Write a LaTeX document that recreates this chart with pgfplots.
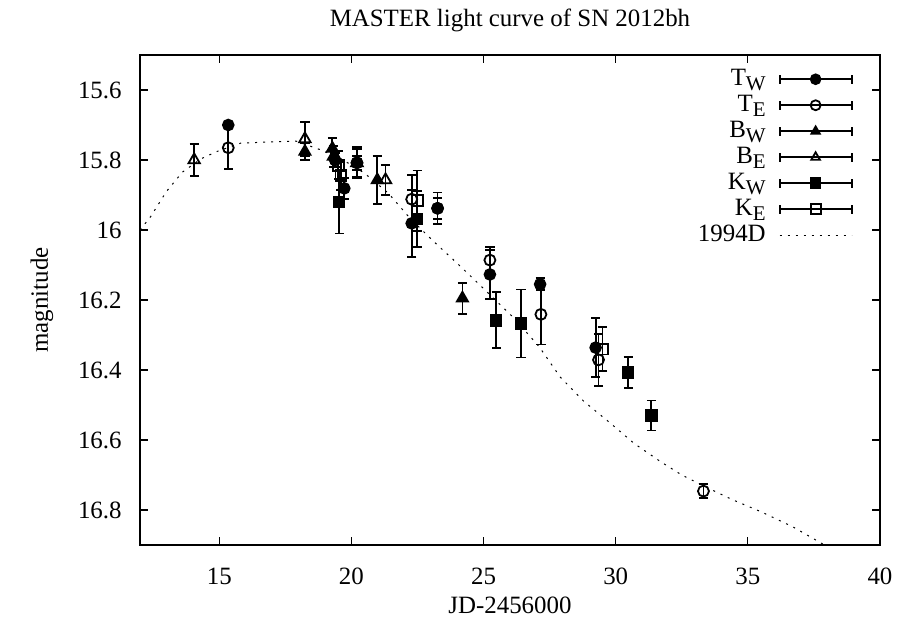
\documentclass[border=0pt]{standalone}
\usepackage{fontspec}
\setmainfont{Liberation Serif}
\usepackage{pgfplots}
\pgfplotsset{compat=1.18}
\newcommand\sub[1]{\raisebox{-0.5ex}{\fontsize{10.5}{10.5}\selectfont #1}}
\pgfplotsset{
  errleg/.style={legend image code/.code={
    \draw[mark=none,solid,line width=0.9bp] (0bp,0bp) -- (36bp,0bp);
    \draw[mark=none,solid,line width=0.9bp] (0bp,-2.3bp) -- (0bp,2.3bp) (36bp,-2.3bp) -- (36bp,2.3bp);
    \draw[##1, mark size=2.5bp] plot coordinates {(18bp,0bp)};
  }},
  dotleg/.style={legend image code/.code={
    \draw[##1] (0bp,0bp) -- (36bp,0bp);
  }},
  ebar/.style={error bars/y dir=both, error bars/y explicit,
    error bars/error mark options={rotate=90, mark size=2.3bp, line width=0.9bp, black},
    error bars/error bar style={line width=0.9bp, black}},
}
\begin{document}
\fontsize{12.5}{15}\selectfont
\begin{tikzpicture}
\useasboundingbox (-70bp,-39bp) rectangle (381bp,272.5bp);
\begin{axis}[
  scale only axis, width=370bp, height=245bp,
  at={(0,0)}, anchor=south west,
  xmin=12, xmax=40, ymin=15.5, ymax=16.9,
  y dir=reverse,
  xtick={15,20,25,30,35,40},
  ytick={15.6,15.8,16,16.2,16.4,16.6,16.8},
  /pgf/number format/assume math mode=true,
  major tick length=4bp,
  tick style={line width=0.6bp, black},
  axis line style={line width=0.7bp, black},
  xticklabel style={anchor=base, yshift=-19.5bp, inner sep=0pt},
  yticklabel style={anchor=east, xshift=-9bp, inner sep=0pt},
  every axis title shift=0pt,
  title={MASTER light curve of SN 2012bh},
  title style={at={(axis description cs:0.5,1)}, anchor=base, yshift=14.5bp, inner sep=0pt},
  xlabel={JD-2456000},
  xlabel style={at={(axis description cs:0.5,0)}, anchor=base, yshift=-34bp, inner sep=0pt},
  ylabel={magnitude},
  ylabel style={at={(axis description cs:-0.1324,0.5)}, anchor=center, inner sep=0pt},
  legend cell align=right,
  legend plot pos=right,
  legend style={draw=none, fill=none, at={(axis description cs:0.9715,0.986)}, anchor=north east,
    column sep=6.5bp, row sep=0pt,
    nodes={inner sep=0pt, text height=9.5bp, text depth=3.5bp}},
]
% T_W
\addplot[black, only marks, mark=*, mark size=2.75bp, mark options={solid, fill=black, line width=0.8bp}, ebar, errleg]
  table[x=x, y=y, y error=e] {
x y e
15.34 15.700 0.010
19.38 15.800 0.020
19.73 15.881 0.030
20.21 15.808 0.020
22.28 15.981 0.095
23.26 15.938 0.030
25.24 16.127 0.070
27.14 16.155 0.017
29.24 16.336 0.085
};
\addlegendentry{T\sub{W}}
% T_E
\addplot[black, only marks, mark=o, mark size=2.75bp, mark options={solid, line width=0.9bp}, ebar, errleg]
  table[x=x, y=y, y error=e] {
x y e
15.34 15.765 0.060
20.21 15.808 0.045
22.28 15.912 0.070
23.26 15.938 0.045
25.24 16.086 0.038
27.17 16.241 0.086
29.35 16.371 0.075
33.32 16.746 0.020
};
\addlegendentry{T\sub{E}}
% B_W
\addplot[black, only marks, mark=triangle*, mark size=3.3bp, mark options={solid, fill=black, line width=0.8bp}, ebar, errleg]
  table[x=x, y=y, y error=e] {
x y e
18.24 15.776 0.025
19.28 15.767 0.030
20.98 15.857 0.068
24.20 16.195 0.044
};
\addlegendentry{B\sub{W}}
% B_E
\addplot[black, only marks, mark=triangle, mark size=3.3bp, mark options={solid, line width=0.9bp}, ebar, errleg]
  table[x=x, y=y, y error=e] {
x y e
14.05 15.800 0.045
18.24 15.740 0.048
19.32 15.790 0.030
20.21 15.808 0.040
21.29 15.857 0.043
};
\addlegendentry{B\sub{E}}
% K_W
\addplot[black, only marks, mark=square*, mark size=2.7bp, mark options={solid, fill=black, line width=0.8bp}, ebar, errleg]
  table[x=x, y=y, y error=e] {
x y e
19.54 15.920 0.090
22.49 15.968 0.080
25.48 16.258 0.080
26.42 16.267 0.097
30.47 16.407 0.045
31.35 16.530 0.043
};
\addlegendentry{K\sub{W}}
% K_E
\addplot[black, only marks, mark=square, mark size=2.7bp, mark options={solid, line width=0.9bp}, ebar, errleg]
  table[x=x, y=y, y error=e] {
x y e
19.50 15.815 0.040
19.60 15.845 0.040
22.49 15.916 0.086
29.50 16.340 0.062
};
\addlegendentry{K\sub{E}}
% 1994D template
\addplot[black, no marks, line width=0.5bp, dash pattern=on 1bp off 3bp, dotleg]
  table[x=x, y=y] {
x y
12.0 16.000
12.4 15.962
13.0 15.890
13.6 15.835
14.3 15.797
14.9 15.776
15.8 15.752
17.0 15.748
17.9 15.746
18.8 15.770
19.6 15.796
20.5 15.838
21.4 15.895
22.2 15.965
23.1 16.032
24.0 16.095
24.9 16.160
26.1 16.248
27.1 16.333
27.9 16.420
28.8 16.490
29.8 16.552
30.7 16.610
31.7 16.662
32.5 16.700
33.3 16.730
34.4 16.770
35.5 16.805
36.7 16.848
37.9 16.900
};
\addlegendentry{1994D}
\end{axis}
\end{tikzpicture}
\end{document}
